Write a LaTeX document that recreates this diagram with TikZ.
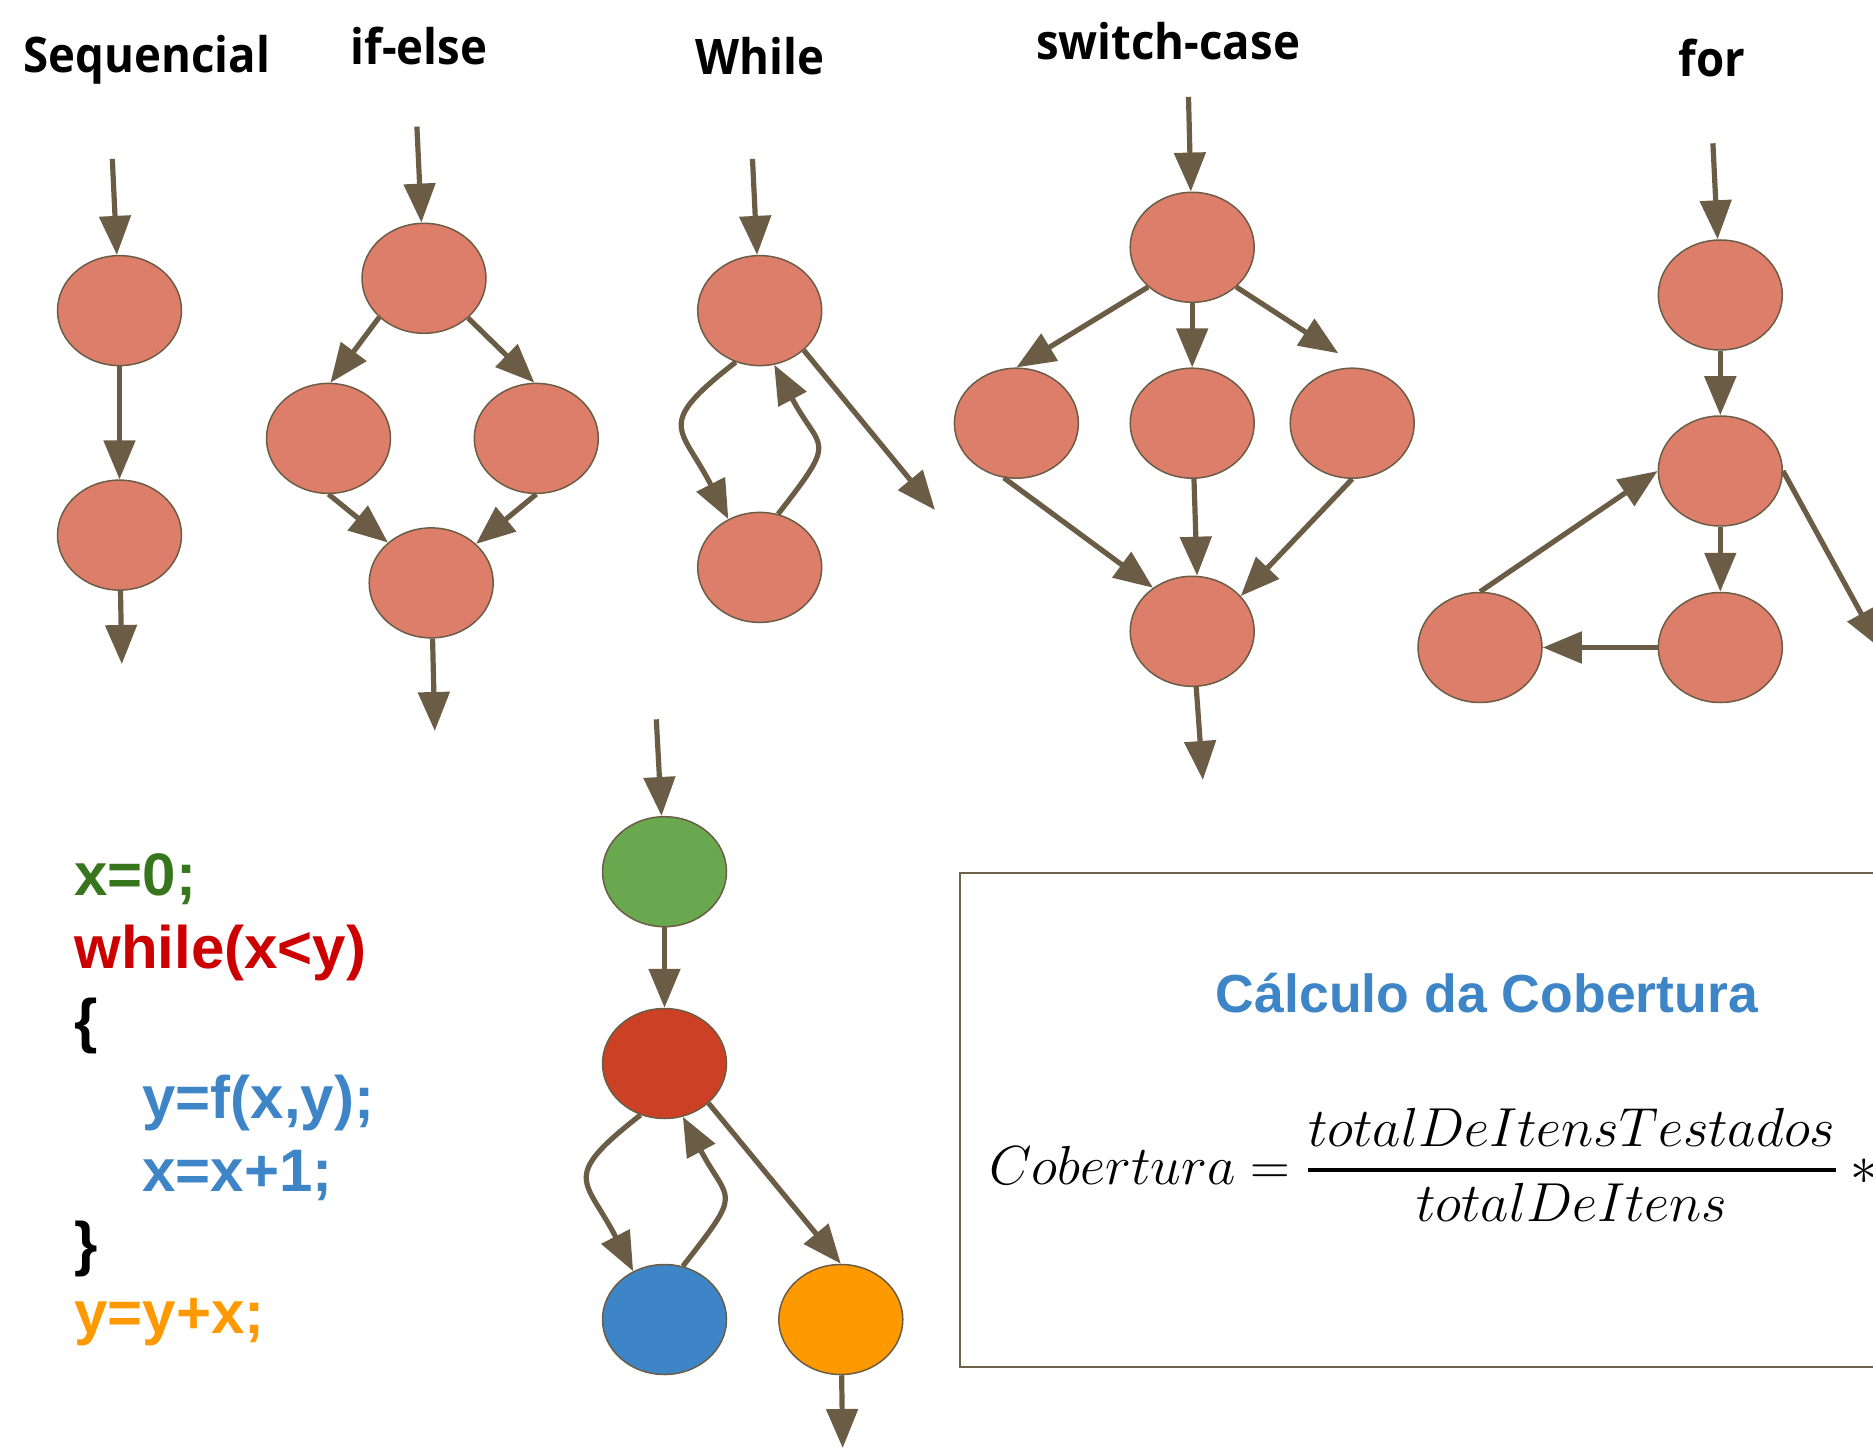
\RequirePackage{fix-cm}
\documentclass[tikz,border=0pt]{standalone}
\usepackage{amsmath}
\usepackage{fontspec}
\usetikzlibrary{arrows.meta,shapes.geometric}
\newfontfamily\titlefont{Open Sans}[FakeStretch=0.93]
\newfontfamily\arialfont{Liberation Sans}
\definecolor{arrowbrown}{HTML}{6B5D45}
\definecolor{nodefill}{HTML}{DD7E6B}
\definecolor{startgreen}{HTML}{6AA84F}
\definecolor{loopred}{HTML}{CC4125}
\definecolor{bodyblue}{HTML}{3D85C6}
\definecolor{endorange}{HTML}{FF9900}
\definecolor{codegreen}{HTML}{38761D}
\definecolor{codered}{HTML}{CC0000}
\tikzset{
  blob/.style={ellipse, draw=arrowbrown, line width=0.75pt, fill=nodefill,
    minimum width=62pt, minimum height=55pt, inner sep=0pt},
  link/.style={draw=arrowbrown, line width=2.6pt,
    -{Triangle[length=19.5pt,width=15.5pt]}},
  title/.style={font=\titlefont\bfseries\fontsize{24.5}{29}\selectfont,
    anchor=base, inner sep=0pt},
  code/.style={font=\arialfont\bfseries\fontsize{30}{36}\selectfont,
    anchor=base west, inner sep=0pt},
  boxline/.style={draw=arrowbrown!85!gray, line width=0.8pt}
}
\begin{document}
\begin{tikzpicture}[x=0.5pt,y=0.5pt]
  \useasboundingbox (0,0) rectangle (1873,-1449);

  \node[title] (tseq) at (147,-73) {Sequencial};
  \node[title] (tif) at (419,-65) {if-else};
  \node[title] (twhile) at (760,-75) {While};
  \node[title] (tswitch) at (1168,-60) {switch-case};
  \node[title] (tfor) at (1712,-77) {for};

  \path
    (119.5,-310.6) node[blob] (s1) {}
    (119.5,-535.1) node[blob] (s2) {}
    (424,-278.3) node[blob] (i1) {}
    (328.5,-438.4) node[blob] (i2) {}
    (536.3,-438.4) node[blob] (i3) {}
    (431.2,-582.9) node[blob] (i4) {}
    (759.7,-310.6) node[blob] (w1) {}
    (759.7,-567.4) node[blob] (w2) {}
    (1192.2,-247.3) node[blob] (c1) {}
    (1016.4,-423.2) node[blob] (c2) {}
    (1192.2,-423.2) node[blob] (c3) {}
    (1352.2,-423.2) node[blob] (c4) {}
    (1192.2,-631.3) node[blob] (c5) {}
    (1720.3,-295) node[blob] (f1) {}
    (1720.3,-471) node[blob] (f2) {}
    (1720.3,-647.5) node[blob] (f3) {}
    (1480,-647.5) node[blob] (f4) {}
    (664.5,-871.7) node[blob, fill=startgreen] (g) {}
    (664.5,-1063.5) node[blob, fill=loopred] (r) {}
    (664.5,-1319.5) node[blob, fill=bodyblue] (b) {}
    (840.8,-1319.5) node[blob, fill=endorange] (o) {};

  \coordinate (sin) at (112.3,-158.9);
  \coordinate (sout) at (121.8,-664);
  \coordinate (iin) at (416.9,-126.6);
  \coordinate (iout) at (434.8,-731);
  \coordinate (win) at (752.5,-158.9);
  \coordinate (wout) at (935,-510);
  \coordinate (cin) at (1188.5,-96.8);
  \coordinate (cside) at (1338.3,-353.3);
  \coordinate (cout) at (1202.9,-780);
  \coordinate (fin) at (1712.9,-143.3);
  \coordinate (fout) at (1880,-648);
  \coordinate (gin) at (656.3,-719.3);
  \coordinate (oout) at (842.7,-1448);

  \begin{scope}[link]
    \draw (sin) -- (s1);
    \draw (s1) -- (s2);
    \draw (s2) -- (sout);

    \draw (iin) -- (i1);
    \draw (i1.221) -- (i2.88);
    \draw (i1.318) -- (i3.92);
    \draw (i2.south) -- (i4.137);
    \draw (i3.south) -- (i4.41);
    \draw (i4) -- (iout);

    \draw (win) -- (w1);
    \draw (w1.245) to[out=218,in=117,looseness=1.7] (w2.123);
    \draw (w2.71) to[out=52,in=298,looseness=1.7] (w1.285);
    \draw (w1.318) -- (wout);

    \draw (cin) -- (c1);
    \draw (c1.222) -- (c2.north);
    \draw (c1) -- (c3);
    \draw (c1.318) -- (cside);
    \draw (c2.257) -- (c5.132);
    \draw (c3) -- (c5.85);
    \draw (c4.south) -- (c5.36);
    \draw (c5) -- (cout);

    \draw (fin) -- (f1);
    \draw (f1) -- (f2);
    \draw (f2) -- (f3);
    \draw (f3) -- (f4);
    \draw (f4.north) -- (f2.west);
    \draw (f2.east) -- (fout);

    \draw (gin) -- (g);
    \draw (g) -- (r);
    \draw (r.245) to[out=218,in=117,looseness=1.7] (b.123);
    \draw (b.71) to[out=52,in=298,looseness=1.7] (r.289);
    \draw (r.318) -- (o.north);
    \draw (o) -- (oout);
  \end{scope}

  \node[code, text=codegreen] (line1) at (74,-895) {x=0;};
  \node[code, text=codered] (line2) at (74,-968) {while(x<y)};
  \node[code] (line3) at (74,-1041) {\{};
  \node[code, text=bodyblue] (line4) at (142,-1118) {y=f(x,y);};
  \node[code, text=bodyblue] (line5) at (142,-1191) {x=x+1;};
  \node[code] (line6) at (74,-1264) {\}};
  \node[code, text=endorange] (line7) at (74,-1333) {y=y+x;};

  \draw[boxline] (960,-873) rectangle (1900,-1367);
  \node[anchor=base, inner sep=0pt, text=bodyblue,
    font=\arialfont\bfseries\fontsize{26.8}{32}\selectfont] (cover) at (1487,-1012)
    {Cálculo da Cobertura};
  \node[anchor=base west, inner sep=0pt, font=\fontsize{27.5}{33}\selectfont]
    (formula) at (989,-1184)
    {$\displaystyle Cobertura=\genfrac{}{}{1.8pt}{0}{totalDeItensTestados}{totalDeItens}*{}$};
\end{tikzpicture}
\end{document}
